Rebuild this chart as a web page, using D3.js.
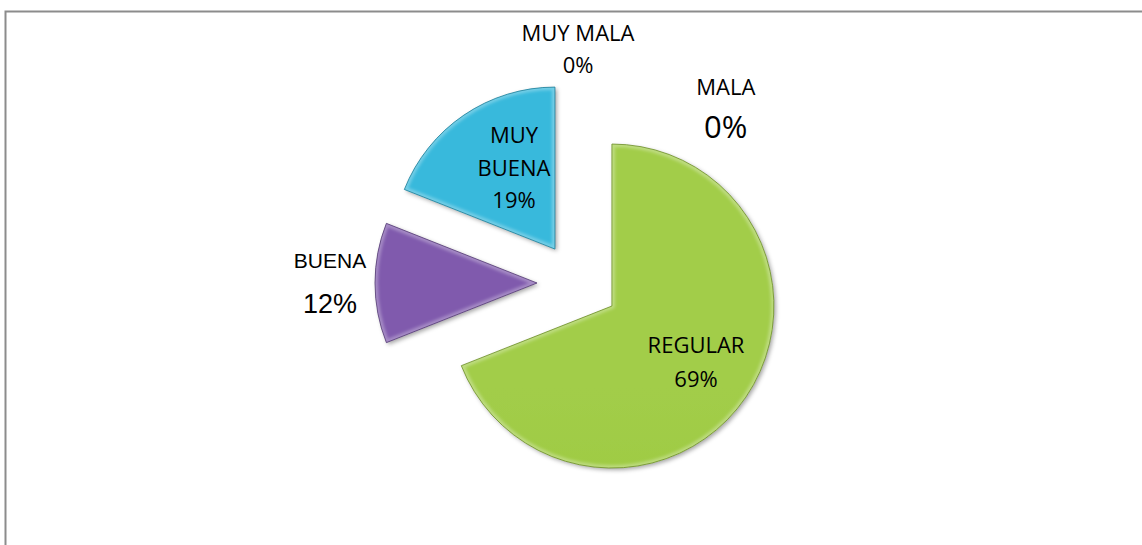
<!DOCTYPE html>
<html>
<head>
<meta charset="utf-8">
<script src="https://cdn.jsdelivr.net/npm/d3@7"></script>
<style>
  body { margin: 0; background: #fff; }
  svg { display: block; }
</style>
</head>
<body>
<script>
// data, clockwise from 12 o'clock as in the sheet
var categories = ["MUY MALA", "MALA", "REGULAR", "BUENA", "MUY BUENA"];
var percents   = [0, 0, 69, 12, 19];
var colors     = ["#4F81BD", "#C0504D", "#9BBB59", "#8064A2", "#4BACC6"];

var width = 1142,
    height = 545,
    cx = 578,
    cy = 283,
    radius = 162,
    explode = 41;

// label placement: angle (deg, clockwise from top), distance from pie centre, font, sizes
var labelLayout = [
  {ang: 0,     dist: 230, font: "Open Sans",       nameSize: 22, pctSize: 22, lines: [-12, 20]},
  {ang: 41.5,  dist: 223, font: "Open Sans",       nameSize: 22, pctSize: 31, lines: [-21, 22]},
  {ang: 123.8, dist: 142, font: "Open Sans",       nameSize: 22, pctSize: 22, lines: [-9, 25]},
  {ang: 270,   dist: 248, font: "Liberation Sans", nameSize: 21, pctSize: 27, lines: [-15, 30]},
  {ang: 331,   dist: 132, font: "Open Sans",       nameSize: 22, pctSize: 22, lines: [-25, 8, 40]}
];

var svg = d3.select("body").append("svg")
    .attr("width", width)
    .attr("height", height);

// chart frame (only top and left edges visible in the picture)
svg.append("rect")
   .attr("x", 5.5).attr("y", 11.5)
   .attr("width", width + 20).attr("height", height + 20)
   .attr("fill", "#fff")
   .attr("stroke", "#8c8c8c")
   .attr("stroke-width", 2);

var defs = svg.append("defs");

var shadow = defs.append("filter").attr("id", "shadow")
    .attr("x", "-20%").attr("y", "-20%").attr("width", "140%").attr("height", "140%");
shadow.append("feDropShadow")
    .attr("dx", 2).attr("dy", 2).attr("stdDeviation", 2)
    .attr("flood-color", "#000").attr("flood-opacity", 0.35);

var soft = defs.append("filter").attr("id", "soft");
soft.append("feGaussianBlur").attr("stdDeviation", 1.8);

function vivid(c, k){
  var h = d3.hsl(c);
  h.s = Math.min(1, h.s * 1.35);
  return k >= 0 ? h.brighter(k) : h.darker(-k);
}

colors.forEach(function(c, i){
  var g = defs.append("linearGradient")
      .attr("id", "grad" + i)
      .attr("gradientUnits", "userSpaceOnUse")
      .attr("x1", 0).attr("y1", cy - radius - explode)
      .attr("x2", 0).attr("y2", cy + radius + explode);
  g.append("stop").attr("offset", "0%").attr("stop-color", vivid(c, 0.02));
  g.append("stop").attr("offset", "50%").attr("stop-color", vivid(c, -0.15));
  g.append("stop").attr("offset", "100%").attr("stop-color", vivid(c, -0.45));
});

var pie = d3.pie().sort(null).value(function(d){ return d; });
var arcs = pie(percents);

var arc = d3.arc().innerRadius(0).outerRadius(radius);

function offset(d){
  var a = (d.startAngle + d.endAngle) / 2;
  return [Math.sin(a) * explode, -Math.cos(a) * explode];
}

var slices = svg.append("g")
    .attr("transform", "translate(" + cx + "," + cy + ")")
  .selectAll("g.slice")
    .data(arcs.filter(function(d){ return d.value > 0; }))
  .enter().append("g")
    .attr("class", "slice")
    .attr("transform", function(d){ var o = offset(d); return "translate(" + o[0] + "," + o[1] + ")"; });

slices.append("clipPath")
    .attr("id", function(d){ return "clip" + d.index; })
  .append("path")
    .attr("d", arc);

slices.append("path")
    .attr("d", arc)
    .attr("fill", function(d){ return "url(#grad" + d.index + ")"; })
    .attr("filter", "url(#shadow)");

// bevel: light inner rim and darker outline
slices.append("path")
    .attr("d", arc)
    .attr("fill", "none")
    .attr("stroke", "#fff")
    .attr("stroke-opacity", 0.3)
    .attr("stroke-width", 6)
    .attr("stroke-linejoin", "round")
    .attr("clip-path", function(d){ return "url(#clip" + d.index + ")"; })
    .attr("filter", "url(#soft)");

slices.append("path")
    .attr("d", arc)
    .attr("fill", "none")
    .attr("stroke", function(d){ return vivid(colors[d.index], -1.2); })
    .attr("stroke-opacity", 0.8)
    .attr("stroke-width", 1);

// labels
var labels = svg.append("g").selectAll("g.label")
    .data(arcs)
  .enter().append("g")
    .attr("class", "label")
    .attr("transform", function(d){
      var L = labelLayout[d.index], a = L.ang * Math.PI / 180;
      return "translate(" + (cx + Math.sin(a) * L.dist) + "," + (cy - Math.cos(a) * L.dist) + ")";
    });

labels.each(function(d){
  var L = labelLayout[d.index];
  var words = categories[d.index] === "MUY BUENA" ? ["MUY", "BUENA"] : [categories[d.index]];
  var rows = words.concat([d.value + "%"]);
  var g = d3.select(this);
  rows.forEach(function(t, j){
    var last = j === rows.length - 1;
    g.append("text")
     .attr("x", 0)
     .attr("y", L.lines[j])
     .attr("text-anchor", "middle")
     .attr("font-family", L.font + ", sans-serif")
     .attr("font-size", last ? L.pctSize : L.nameSize)
     .attr("fill", "#000")
     .text(t);
  });
});
</script>
</body>
</html>
